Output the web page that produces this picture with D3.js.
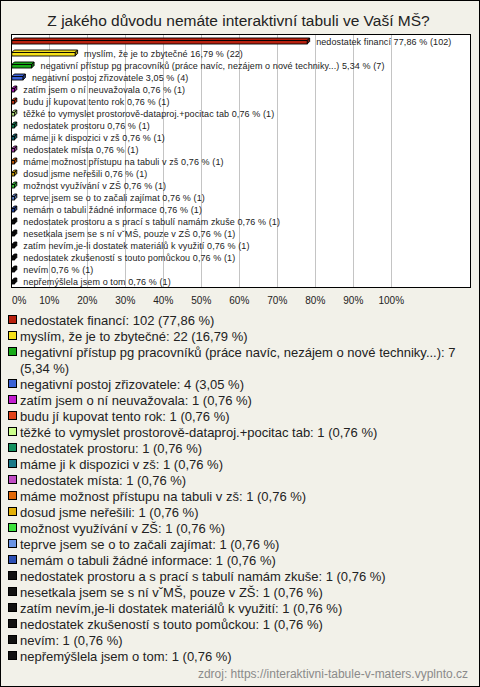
<!DOCTYPE html>
<html><head><meta charset="utf-8">
<script src="https://cdn.jsdelivr.net/npm/d3@7/dist/d3.min.js"></script>
<style>
html,body{margin:0;padding:0;background:#f2f1e9;}
svg{display:block;font-family:"Liberation Sans",Arial,sans-serif;}
</style></head>
<body>
<svg id="c" width="480" height="687"></svg>
<script>
const title = "Z jakého důvodu nemáte interaktivní tabuli ve Vaší MŠ?";
const categories = [
  "nedostatek financí",
  "myslím, že je to zbytečné",
  "negativní přístup pg pracovníků (práce navíc, nezájem o nové techniky...)",
  "negativní postoj zřizovatele",
  "zatím jsem o ní neuvažovala",
  "budu jí kupovat tento rok",
  "těžké to vymyslet prostorově-dataproj.+pocitac tab",
  "nedostatek prostoru",
  "máme ji k dispozici v zš",
  "nedostatek místa",
  "máme možnost přístupu na tabuli v zš",
  "dosud jsme neřešili",
  "možnost využívání v ZŠ",
  "teprve jsem se o to začali zajímat",
  "nemám o tabuli žádné informace",
  "nedostatek prostoru a s prací s tabulí namám zkuše",
  "nesetkala jsem se s ní vˇMŠ, pouze v ZŠ",
  "zatím nevím,je-li dostatek materiálů k využití",
  "nedostatek zkušeností s touto pomůckou",
  "nevím",
  "nepřemýšlela jsem o tom"
];
const counts = [102, 22, 7, 4, 1, 1, 1, 1, 1, 1, 1, 1, 1, 1, 1, 1, 1, 1, 1, 1, 1];
const percents = [77.86, 16.79, 5.34, 3.05, 0.76, 0.76, 0.76, 0.76, 0.76, 0.76, 0.76, 0.76, 0.76, 0.76, 0.76, 0.76, 0.76, 0.76, 0.76, 0.76, 0.76];
const colors = ["#b8200e","#f5e01a","#18aa18","#3b62d6","#c21ccf","#e0421a","#ccff8c","#12905e","#1a7a8a","#c04cc4","#e06808","#e2b008","#3ee23e","#6a94e4","#2c4fb4",
  "#111","#111","#111","#111","#111","#111"];
const xTicks = [0,10,20,30,40,50,60,70,80,90,100];
const source = "zdroj: https://interaktivni-tabule-v-maters.vyplnto.cz";

const fmt = v => d3.format(".2f")(v).replace(".", ",");
const svg = d3.select("#c");

svg.append("rect").attr("x",0.5).attr("y",0.5).attr("width",479).attr("height",686)
  .attr("fill","#f2f1e9").attr("stroke","#000");

svg.append("text").attr("x",238.5).attr("y",26).attr("text-anchor","middle")
  .attr("font-size",15.5).attr("fill","#222").text(title);

const plot = {l:11, r:470, t:34, b:287};
const x = d3.scaleLinear().domain([0,100]).range([11.3, 391.3]);
const y = d3.scaleBand().domain(d3.range(categories.length)).range([35, 287]);

svg.append("rect").attr("x",plot.l+0.5).attr("y",plot.t+0.5).attr("width",plot.r-plot.l).attr("height",plot.b-plot.t)
  .attr("fill","#fff").attr("stroke","none");

svg.append("g").selectAll("line").data(xTicks.slice(1)).join("line")
  .attr("x1",d=>Math.round(x(d))+0.5).attr("x2",d=>Math.round(x(d))+0.5)
  .attr("y1",plot.t).attr("y2",plot.b).attr("stroke","#c4c4c4").attr("stroke-width",1);

svg.append("rect").attr("x",plot.l+0.5).attr("y",plot.t+0.5).attr("width",plot.r-plot.l).attr("height",plot.b-plot.t)
  .attr("fill","none").attr("stroke","#000");

// tick labels
svg.append("g").selectAll("text").data(xTicks).join("text")
  .attr("x",d=> d===0 ? 12 : x(d)).attr("y",304)
  .attr("text-anchor",d=> d===0 ? "start" : "middle")
  .attr("font-size",10).attr("fill","#222").text(d=>d+"%");

// bars (3D look)
const dep = 2.5;
const bars = svg.append("g");
categories.forEach((c,i)=>{
  const cy = y(i) + y.bandwidth()/2 + 0.5;
  const x0 = x(0)+0.5, x1 = Math.max(x(percents[i]), x0+2.5);
  const top = cy - 1, bot = cy + 2.5;
  const col = colors[i];
  const dark = d3.color(col).darker(1.2);
  // top face
  bars.append("path").attr("d",`M${x0},${top}L${x0+dep},${top-dep}L${x1+dep},${top-dep}L${x1},${top}Z`)
    .attr("fill",col).attr("stroke","#000").attr("stroke-width",0.9);
  // side face
  bars.append("path").attr("d",`M${x1},${top}L${x1+dep},${top-dep}L${x1+dep},${bot-dep}L${x1},${bot}Z`)
    .attr("fill",dark).attr("stroke","#000").attr("stroke-width",0.9);
  // front face
  bars.append("rect").attr("x",x0).attr("y",top).attr("width",Math.max(0.1,x1-x0)).attr("height",bot-top)
    .attr("fill",col).attr("stroke","#000").attr("stroke-width",0.9);
  bars.append("text").attr("x",x1+9).attr("y",cy+3.2).attr("font-size",9).attr("letter-spacing",0.1).attr("fill","#222")
    .text(`${c} ${fmt(percents[i])} % (${counts[i]})`);
});

// legend
const leg = svg.append("g");
let line = 0;
const lh = 16, ly0 = 320, maxW = 448;
categories.forEach((c,i)=>{
  const cy = ly0 + line*lh;
  leg.append("rect").attr("x",8.5).attr("y",cy-4.5).attr("width",8).attr("height",8)
    .attr("fill",colors[i]).attr("stroke","#000").attr("stroke-width",1);
  const words = `${c}: ${counts[i]} (${fmt(percents[i])} %)`.split(" ");
  let t = leg.append("text").attr("x",20).attr("y",cy+4.5).attr("font-size",13).attr("fill","#222");
  let cur = [];
  words.forEach(w=>{
    cur.push(w);
    t.text(cur.join(" "));
    if (t.node().getComputedTextLength() > maxW && cur.length>1) {
      cur.pop(); t.text(cur.join(" "));
      line++;
      t = leg.append("text").attr("x",20).attr("y",ly0+line*lh+4.5).attr("font-size",13).attr("fill","#222");
      cur=[w]; t.text(w);
    }
  });
  line++;
});

svg.append("text").attr("x",468).attr("y",678).attr("text-anchor","end")
  .attr("font-size",12).attr("fill","#8a8a8a").text(source);
</script>
</body></html>
